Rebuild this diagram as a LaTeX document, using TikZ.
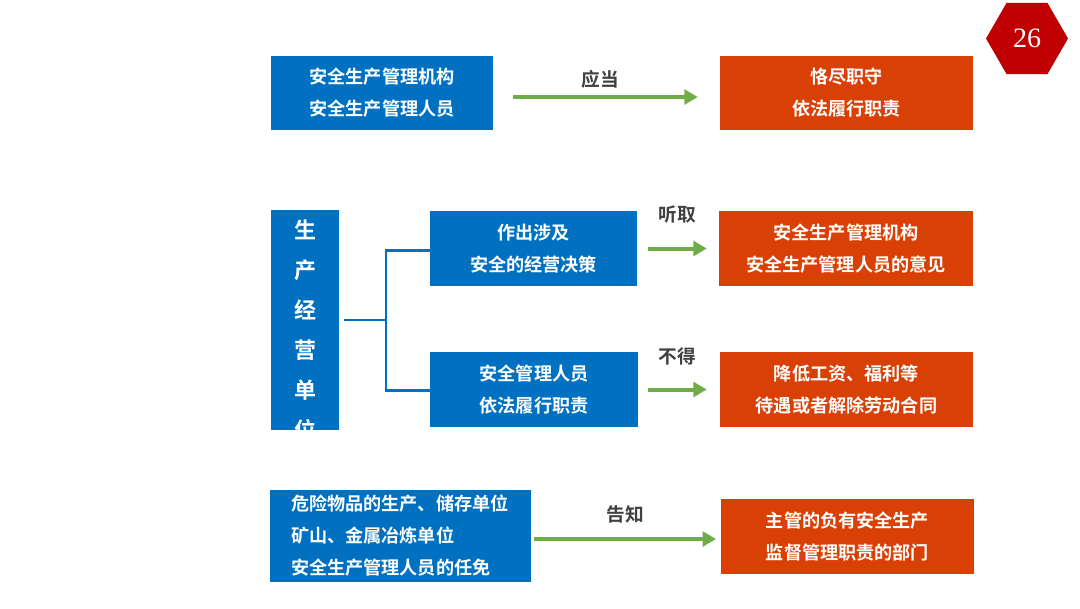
\documentclass[tikz,border=0pt]{standalone}
\usepackage{fontspec}
\setmainfont{Liberation Serif}
\newfontfamily\cjk{Noto Sans CJK SC Bold}
\usetikzlibrary{arrows.meta,shapes.geometric}
\definecolor{myblue}{HTML}{0070C0}
\definecolor{myorange}{HTML}{D84005}
\definecolor{mygreen}{HTML}{70AD47}
\definecolor{mygray}{HTML}{404040}
\definecolor{myred}{HTML}{C00000}
\tikzset{
  box/.style={rectangle, inner sep=0pt, text=white, align=center,
    font=\cjk\fontsize{13.6}{24}\selectfont},
  bluebox/.style={box, fill=myblue},
  orangebox/.style={box, fill=myorange},
  garrow/.style={draw=mygreen, line width=3pt, -{Triangle[length=10pt,width=11pt]}},
  lbl/.style={text=mygray, font=\cjk\fontsize{14}{16}\selectfont, inner sep=0pt},
  bracket/.style={draw=myblue, line width=1.6pt},
}
\begin{document}
\begin{tikzpicture}[x=0.75pt,y=-0.75pt]
\useasboundingbox (0,0) rectangle (1080,608);
% row 1
\node[bluebox, minimum width=222*0.75pt, minimum height=74*0.75pt] (A1) at (382,93) {安全生产管理机构\\安全生产管理人员};
\node[orangebox, minimum width=253*0.75pt, minimum height=74*0.75pt] (B1) at (846.5,93) {恪尽职守\\依法履行职责};
\draw[garrow] ([xshift=20*0.75pt,yshift=-4*0.75pt]A1.east) -- ([xshift=-22*0.75pt,yshift=-4*0.75pt]B1.west);
\node[lbl] (L1) at (600,79) {应当};
% row 2: vertical box
\node[rectangle, fill=myblue, minimum width=68*0.75pt, minimum height=220*0.75pt, inner sep=0pt] (V) at (305,320) {};
\begin{scope}
\clip (271,210) rectangle (339,430);
\node[text=white, align=center, font=\cjk\fontsize{16.5}{30}\selectfont, inner sep=0pt, anchor=north] (VT) at (305,219.5) {生\\产\\经\\营\\单\\位};
\end{scope}
\node[bluebox, minimum width=207*0.75pt, minimum height=75*0.75pt] (C1) at (533.5,248.5) {作出涉及\\安全的经营决策};
\node[bluebox, minimum width=208*0.75pt, minimum height=75*0.75pt] (C2) at (534,389.5) {安全管理人员\\依法履行职责};
\coordinate (J) at (386,320);
\draw[bracket] ([xshift=5*0.75pt]V.east) -- (J);
\draw[bracket] ([yshift=-2*0.75pt]C1.west) -| (J) |- ([yshift=-1*0.75pt]C2.west);
\node[orangebox, minimum width=254*0.75pt, minimum height=75*0.75pt] (D1) at (846,248.5) {安全生产管理机构\\安全生产管理人员的意见};
\node[orangebox, minimum width=253*0.75pt, minimum height=75*0.75pt] (D2) at (846.5,389.5) {降低工资、福利等\\待遇或者解除劳动合同};
\draw[garrow] ([xshift=11*0.75pt]C1.east) -- ([xshift=-12*0.75pt]D1.west);
\draw[garrow] ([xshift=10*0.75pt]C2.east) -- ([xshift=-13*0.75pt]D2.west);
\node[lbl] (L2) at (677,215) {听取};
\node[lbl] (L3) at (677,356) {不得};
% row 3
\node[bluebox, minimum width=261*0.75pt, minimum height=92*0.75pt, text width=219*0.75pt, align=left] (E1) at (400.5,536) {危险物品的生产、储存单位\\矿山、金属冶炼单位\\安全生产管理人员的任免};
\node[orangebox, minimum width=253*0.75pt, minimum height=75*0.75pt] (F1) at (847.5,536.5) {主管的负有安全生产\\监督管理职责的部门};
\coordinate (G) at (534,539);
\coordinate (H) at (716,539);
\draw[garrow] (G) -- (H);
\node[lbl] (L4) at (625,514) {告知};
% page number
\node[regular polygon, regular polygon sides=6, fill=myred, minimum size=82*0.75pt, inner sep=0pt, text=white, font=\fontsize{21}{22}\selectfont] (P) at (1027,38.5) {26};
\end{tikzpicture}
\end{document}
